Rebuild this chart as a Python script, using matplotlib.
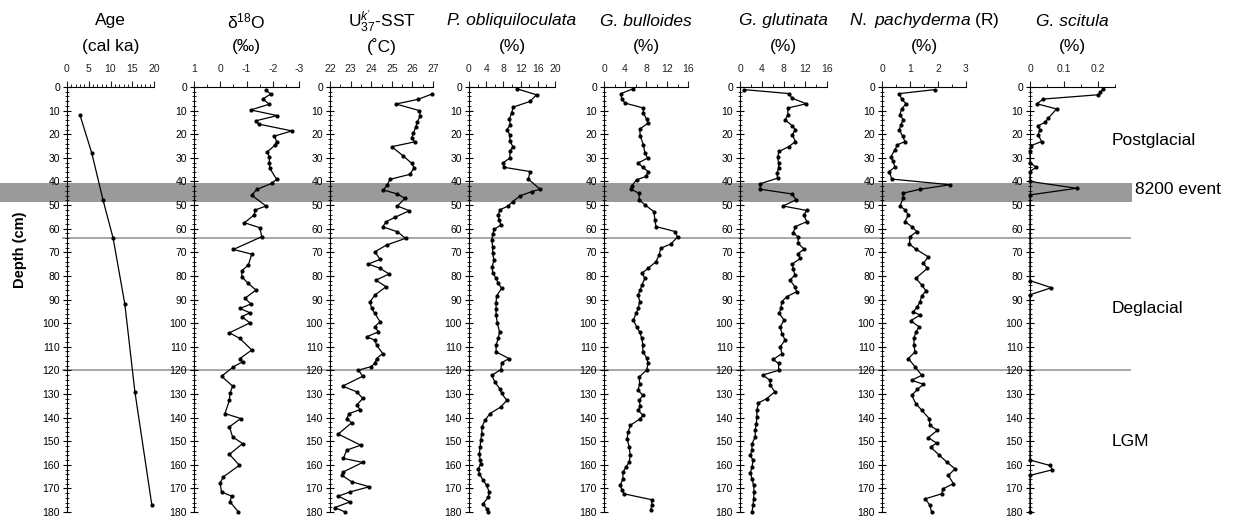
import matplotlib.pyplot as plt
from matplotlib.ticker import MultipleLocator, FuncFormatter

plt.rcParams["font.family"] = ["Liberation Sans", "DejaVu Sans"]
plt.rcParams["mathtext.fontset"] = "custom"
plt.rcParams["mathtext.rm"] = "Liberation Sans"
plt.rcParams["mathtext.it"] = "Liberation Sans:italic"
plt.rcParams["axes.unicode_minus"] = False

# === Data (depth in cm) ===
age_depth = [12, 28, 48, 64, 92, 129, 177]
age_val = [3.0, 5.7, 8.3, 10.6, 13.3, 15.6, 19.5]

d18o_depth = [1.3, 3.0, 5.1, 7.3, 9.7, 12.1, 14.3, 15.7, 18.6, 20.8, 23.2, 24.7, 27.5, 29.5,
              32.3, 34.5, 39.1, 40.8, 43.4, 45.8, 50.4, 52.1, 54.2, 57.5, 59.6, 63.4, 68.8,
              70.8, 75.4, 77.8, 80.4, 83.2, 86.0, 89.5, 91.9, 93.8, 95.6, 97.3, 99.9, 104.1,
              106.5, 111.4, 115.0, 116.4, 118.5, 122.5, 126.7, 129.8, 132.6, 138.3, 140.4,
              143.9, 148.2, 151.0, 155.6, 160.2, 165.1, 167.7, 171.5, 173.3, 175.7, 179.9]
d18o_val = [-1.74, -1.92, -1.62, -1.87, -1.16, -2.17, -1.36, -1.46, -2.73, -2.06, -2.15, -2.08,
            -1.79, -1.87, -1.87, -1.89, -2.15, -1.96, -1.39, -1.20, -1.74, -1.33, -1.29, -0.92,
            -1.51, -1.58, -0.50, -1.20, -1.07, -0.82, -0.82, -1.07, -1.36, -0.94, -1.17, -0.75,
            -1.13, -0.82, -1.13, -0.35, -0.75, -1.20, -0.75, -0.85, -0.50, -0.05, -0.47, -0.37,
            -0.35, -0.18, -0.78, -0.35, -0.47, -0.85, -0.35, -0.73, -0.12, 0.01, -0.05, -0.43,
            -0.37, -0.69]

sst_depth = [3.0, 5.2, 7.2, 10.0, 12.3, 14.7, 16.8, 19.6, 21.7, 23.2, 25.3, 29.2, 32.3, 34.2,
             37.0, 39.1, 41.5, 43.6, 45.3, 47.2, 50.4, 52.4, 55.2, 57.1, 59.2, 61.3, 64.1, 66.9,
             69.8, 73.0, 75.0, 76.8, 79.2, 81.8, 84.6, 88.1, 91.0, 93.8, 95.9, 99.4, 101.5,
             103.7, 105.8, 107.2, 109.3, 112.9, 115.0, 117.1, 118.5, 119.9, 122.5, 126.7, 129.1,
             131.9, 134.7, 136.6, 138.3, 140.4, 142.2, 147.0, 151.7, 153.8, 157.3, 159.0, 163.0,
             164.4, 167.2, 169.3, 171.5, 173.3, 175.7, 178.1, 180.0]
sst_val = [26.94, 26.29, 25.20, 26.34, 26.38, 26.24, 26.17, 26.05, 25.96, 26.13, 24.99, 25.56,
           25.96, 26.08, 25.88, 24.91, 24.78, 24.59, 25.27, 25.64, 25.27, 25.85, 25.15, 24.72,
           24.56, 25.27, 25.67, 24.75, 24.18, 24.43, 23.86, 24.43, 24.87, 24.23, 24.72, 24.18,
           23.94, 24.02, 24.18, 24.43, 24.18, 24.35, 23.78, 24.18, 24.26, 24.56, 24.26, 24.18,
           23.97, 23.38, 23.59, 22.61, 23.30, 23.59, 23.30, 23.46, 22.94, 22.81, 23.05, 22.40,
           23.49, 22.81, 22.65, 23.59, 22.65, 22.57, 23.05, 23.91, 22.97, 22.40, 22.97, 22.24,
           22.73]

pob_depth = [0.8, 3.3, 6.1, 8.5, 11, 13.6, 16, 18.1, 20.2, 23, 25.2, 27.3, 30.1, 32, 34, 35.8,
             39, 43.3, 44.3, 46.1, 48.5, 50.4, 52, 54.2, 56.3, 58.4, 60.3, 62.2, 64.8, 67.6,
             70.4, 73.3, 76.1, 78.6, 81, 83.2, 85.3, 88.5, 91.4, 94.2, 96.6, 100.1, 103.7,
             106.5, 109.3, 112.2, 115, 116.8, 119.7, 122.1, 124.9, 127.7, 129.8, 132.7, 135.5,
             138.3, 141.2, 144, 146.8, 149.6, 152.5, 155.3, 158.1, 159.5, 161.7, 163.8, 166.6,
             168.7, 171.6, 173.7, 176.5, 178.6, 180]
pob_val = [11.2, 15.7, 14.2, 10.3, 9.9, 9.4, 9.6, 8.8, 9.5, 9.5, 10.2, 9.5, 9.5, 8.0, 8.1, 14.2,
           13.8, 16.5, 14.6, 11.9, 10.2, 9.1, 7.2, 6.8, 7.0, 7.4, 5.9, 5.5, 5.3, 5.5, 5.5, 5.8,
           5.4, 5.5, 6.3, 6.8, 7.6, 6.4, 6.3, 6.3, 6.3, 6.6, 7.1, 6.8, 6.3, 6.3, 9.3, 7.6, 7.4,
           5.3, 6.0, 7.1, 7.6, 8.8, 7.4, 4.9, 3.7, 3.0, 3.0, 2.7, 2.6, 2.4, 2.6, 2.7, 2.2, 2.4,
           3.3, 4.1, 4.7, 4.5, 3.3, 4.1, 4.5]

gbu_depth = [0.8, 2.8, 5.1, 6.8, 8.9, 11, 13.6, 15.3, 17.8, 20.7, 24.5, 28, 30.1, 32.2, 34,
             35.8, 37.9, 39.3, 41.9, 43.3, 45, 47.8, 49.9, 52.8, 56.3, 59.1, 61.2, 63.6, 66.5,
             68.3, 71.1, 74, 76.8, 78.9, 81, 83.9, 86, 88.1, 90.9, 93.8, 95.9, 98.7, 101.6,
             103.7, 106.5, 109.3, 112.2, 114.6, 117.1, 119.9, 122.8, 125.6, 128.4, 130.6,
             132.7, 135.2, 136.9, 139, 140.5, 143.3, 146.1, 148.9, 152.5, 156, 158.8, 161,
             163.1, 165.9, 168.7, 170.6, 172.3, 174.8, 177.2, 179]
gbu_val = [5.5, 3.2, 3.4, 4.0, 7.5, 7.5, 8.1, 8.4, 6.8, 6.9, 7.5, 7.8, 8.3, 6.5, 7.4, 8.4, 8.0,
           6.2, 5.3, 5.1, 6.7, 6.7, 7.8, 9.5, 9.7, 9.9, 13.5, 14.0, 12.7, 10.8, 10.5, 9.9, 8.4,
           7.2, 7.8, 7.2, 6.9, 6.5, 6.8, 6.5, 6.1, 5.6, 6.2, 6.8, 7.2, 7.4, 7.4, 8.1, 8.4, 8.1,
           6.7, 6.8, 6.5, 7.4, 6.7, 6.9, 6.5, 7.4, 6.9, 5.0, 4.6, 4.4, 4.8, 5.0, 4.8, 4.2, 3.6,
           3.6, 3.1, 3.4, 3.8, 9.1, 9.1, 8.9]

ggl_depth = [1.1, 2.8, 4.7, 7.1, 8.9, 11.7, 13.9, 16.4, 18.1, 20.2, 23.1, 25.2, 27.3, 29.7,
             32.2, 34.4, 36.5, 38.6, 41, 43.3, 45.3, 47.8, 50.4, 52.3, 54.2, 57, 59.1, 61.7,
             63.6, 66.2, 68.7, 70.7, 72.6, 75, 77.2, 79.6, 81.8, 84.6, 86.7, 88.8, 90.9, 93.8,
             95.9, 98.7, 101.6, 104.4, 107.2, 110, 112.9, 115.4, 117.1, 120, 122, 124.2, 126.3,
             129.1, 132, 133.8, 136.9, 139.7, 142.6, 145.4, 148.2, 151.1, 153.9, 156, 158.1,
             161, 163.5, 165.9, 168.7, 171.6, 174.4, 177.2, 180]
ggl_val = [0.7, 9.1, 9.5, 12.2, 8.8, 8.8, 8.3, 9.6, 10.2, 9.6, 10.2, 9.0, 7.2, 6.9, 7.1, 7.1,
           6.8, 6.9, 3.7, 3.7, 9.6, 10.3, 7.9, 12.3, 11.7, 12.3, 10.2, 9.8, 10.7, 10.7, 11.8,
           10.6, 11.1, 9.6, 9.8, 10.1, 9.2, 10.1, 10.4, 8.6, 7.7, 7.5, 7.2, 8.1, 7.4, 7.7, 8.3,
           7.4, 7.7, 6.1, 7.1, 7.1, 4.2, 5.5, 5.6, 6.4, 4.9, 3.4, 3.1, 3.1, 3.0, 2.8, 2.8, 2.2,
           2.2, 1.9, 2.4, 2.2, 1.9, 2.2, 2.5, 2.6, 2.5, 2.4, 2.2]

npa_depth = [1.1, 2.8, 5.1, 7.1, 9.3, 11.7, 13.9, 16, 18.1, 20.9, 23.1, 24.5, 26.6, 29.7, 31.5,
             33.9, 35.8, 39, 41.4, 43.3, 45, 47.1, 50.4, 52, 54.2, 57, 59.1, 61.2, 63.4, 66.5,
             68.7, 71.9, 74.7, 76.8, 81, 83.9, 86.3, 88.5, 90.9, 93.1, 95.2, 96.6, 99, 101.6,
             103.7, 106.5, 109.3, 112.2, 115, 118.5, 122.1, 124.2, 125.9, 128.1, 130.6, 134.1,
             136.9, 140.5, 143.3, 145.4, 148.5, 150.8, 152.5, 156, 158.8, 161.7, 164.5, 168,
             170.2, 172.3, 174.4, 177.2, 180]
npa_val = [1.89, 0.62, 0.70, 0.86, 0.70, 0.64, 0.76, 0.67, 0.62, 0.74, 0.82, 0.55, 0.46, 0.31,
           0.40, 0.46, 0.26, 0.35, 2.43, 1.36, 0.74, 0.76, 0.64, 0.82, 0.94, 0.82, 1.06, 1.24,
           1.00, 0.98, 1.21, 1.65, 1.48, 1.62, 1.21, 1.42, 1.57, 1.42, 1.36, 1.26, 1.12, 1.36,
           1.02, 1.33, 1.21, 1.14, 1.14, 1.18, 0.94, 1.18, 1.42, 1.06, 1.48, 1.26, 1.06, 1.21,
           1.42, 1.69, 1.71, 1.98, 1.65, 1.95, 1.74, 2.05, 2.31, 2.61, 2.37, 2.55, 2.17, 2.13,
           1.55, 1.71, 1.77]

gsc_depth = [0.8, 2.3, 3.3, 5.1, 7.1, 9.3, 13.2, 15, 16.4, 18.1, 20.2, 23.1, 24.9, 27.3, 32,
             34, 35.8, 40, 42.9, 45.7, 82, 85, 88, 158, 160.3, 162.1, 164.5, 180]
gsc_val = [0.215, 0.207, 0.200, 0.039, 0.020, 0.078, 0.054, 0.044, 0.024, 0.029, 0.024, 0.034,
           0.002, 0, 0, 0.018, 0, 0, 0.137, 0, 0, 0.063, 0, 0, 0.059, 0.066, 0, 0]

event_band = (40.5, 48.5)
boundaries = [64, 120]
zones = [("Postglacial", 1112, 140), ("8200 event", 1135, 190),
         ("Deglacial", 1112, 308), ("LGM", 1112, 442)]

# === Layout (pixel positions of each panel's x-axis) ===
W, H = 1238, 522
TOP, BOTTOM = 87, 512
ax_bottom = 1 - BOTTOM / H
ax_height = (BOTTOM - TOP) / H

panels = [
    # left, right, xlim, major, minor, title, unit, italic
    (67, 154, (0, 20), 5, 1, "Age", "(cal ka)", False, age_depth, age_val),
    (194, 299, (1, -3), 1, 0.5, r"δ$^{18}$O", "(‰)", False, d18o_depth, d18o_val),
    (330, 433, (22, 27), 1, 0.5, r"U$^{k'}_{37}$-SST", "(˚C)", False, sst_depth, sst_val),
    (469, 555, (0, 20), 4, 2, "P. obliquiloculata", "(%)", True, pob_depth, pob_val),
    (604, 688, (0, 16), 4, 2, "G. bulloides", "(%)", True, gbu_depth, gbu_val),
    (740, 827, (0, 16), 4, 2, "G. glutinata", "(%)", True, ggl_depth, ggl_val),
    (882, 966, (0, 3), 1, 0.5, r"$\it{N.\ pachyderma}$ (R)", "(%)", False, npa_depth, npa_val),
    (1030, 1115, (0, 0.25), 0.1, 0.05, "G. scitula", "(%)", True, gsc_depth, gsc_val),
]

fig = plt.figure(figsize=(W / 100, H / 100), dpi=100)

# background: 8200 event band and zone boundaries
bg = fig.add_axes([0, ax_bottom, 1, ax_height], zorder=0)
bg.set_xlim(0, W)
bg.set_ylim(180, 0)
bg.axis("off")
bg.axhspan(*event_band, xmin=0, xmax=1132 / W, color="#9a9a9a", lw=0)
for d in boundaries:
    bg.plot([63, 1130], [d, d], color="#a0a0a0", lw=1.3)

for left, right, xlim, major, minor, title, unit, italic, depth, vals in panels:
    ax = fig.add_axes([left / W, ax_bottom, (right - left) / W, ax_height], zorder=1)
    ax.patch.set_alpha(0)
    ax.plot(vals, depth, color="black", lw=0.9, marker="o", ms=2, clip_on=False)
    ax.set_xlim(*xlim)
    ax.set_ylim(180, 0)
    ax.xaxis.tick_top()
    ax.spines[["right", "bottom"]].set_visible(False)
    ax.xaxis.set_major_locator(MultipleLocator(major))
    ax.xaxis.set_minor_locator(MultipleLocator(minor))
    ax.xaxis.set_major_formatter(FuncFormatter(lambda v, _: f"{v:g}"))
    ax.yaxis.set_major_locator(MultipleLocator(10))
    ax.yaxis.set_minor_locator(MultipleLocator(2))
    ax.tick_params(axis="x", which="major", direction="out", length=4, labelsize=7.5,
                   pad=5, colors="#222222")
    ax.tick_params(axis="x", which="minor", direction="out", length=2)
    ax.tick_params(axis="y", which="major", direction="inout", length=6, labelsize=7.5, pad=2)
    ax.tick_params(axis="y", which="minor", direction="inout", length=3)
    cx = (left + right) / 2 / W
    fig.text(cx, 1 - 21 / H, title, ha="center", va="center", fontsize=12.5,
             style="italic" if italic else "normal")
    fig.text(cx, 1 - 47 / H, unit, ha="center", va="center", fontsize=12.5)

fig.text(20 / W, 1 - 250 / H, "Depth (cm)", rotation=90, ha="center", va="center",
         fontsize=10.5, fontweight="bold")
for label, x, y in zones:
    fig.text(x / W, 1 - y / H, label, ha="left", va="center", fontsize=12.5)

fig.savefig("out.png", dpi=100)
